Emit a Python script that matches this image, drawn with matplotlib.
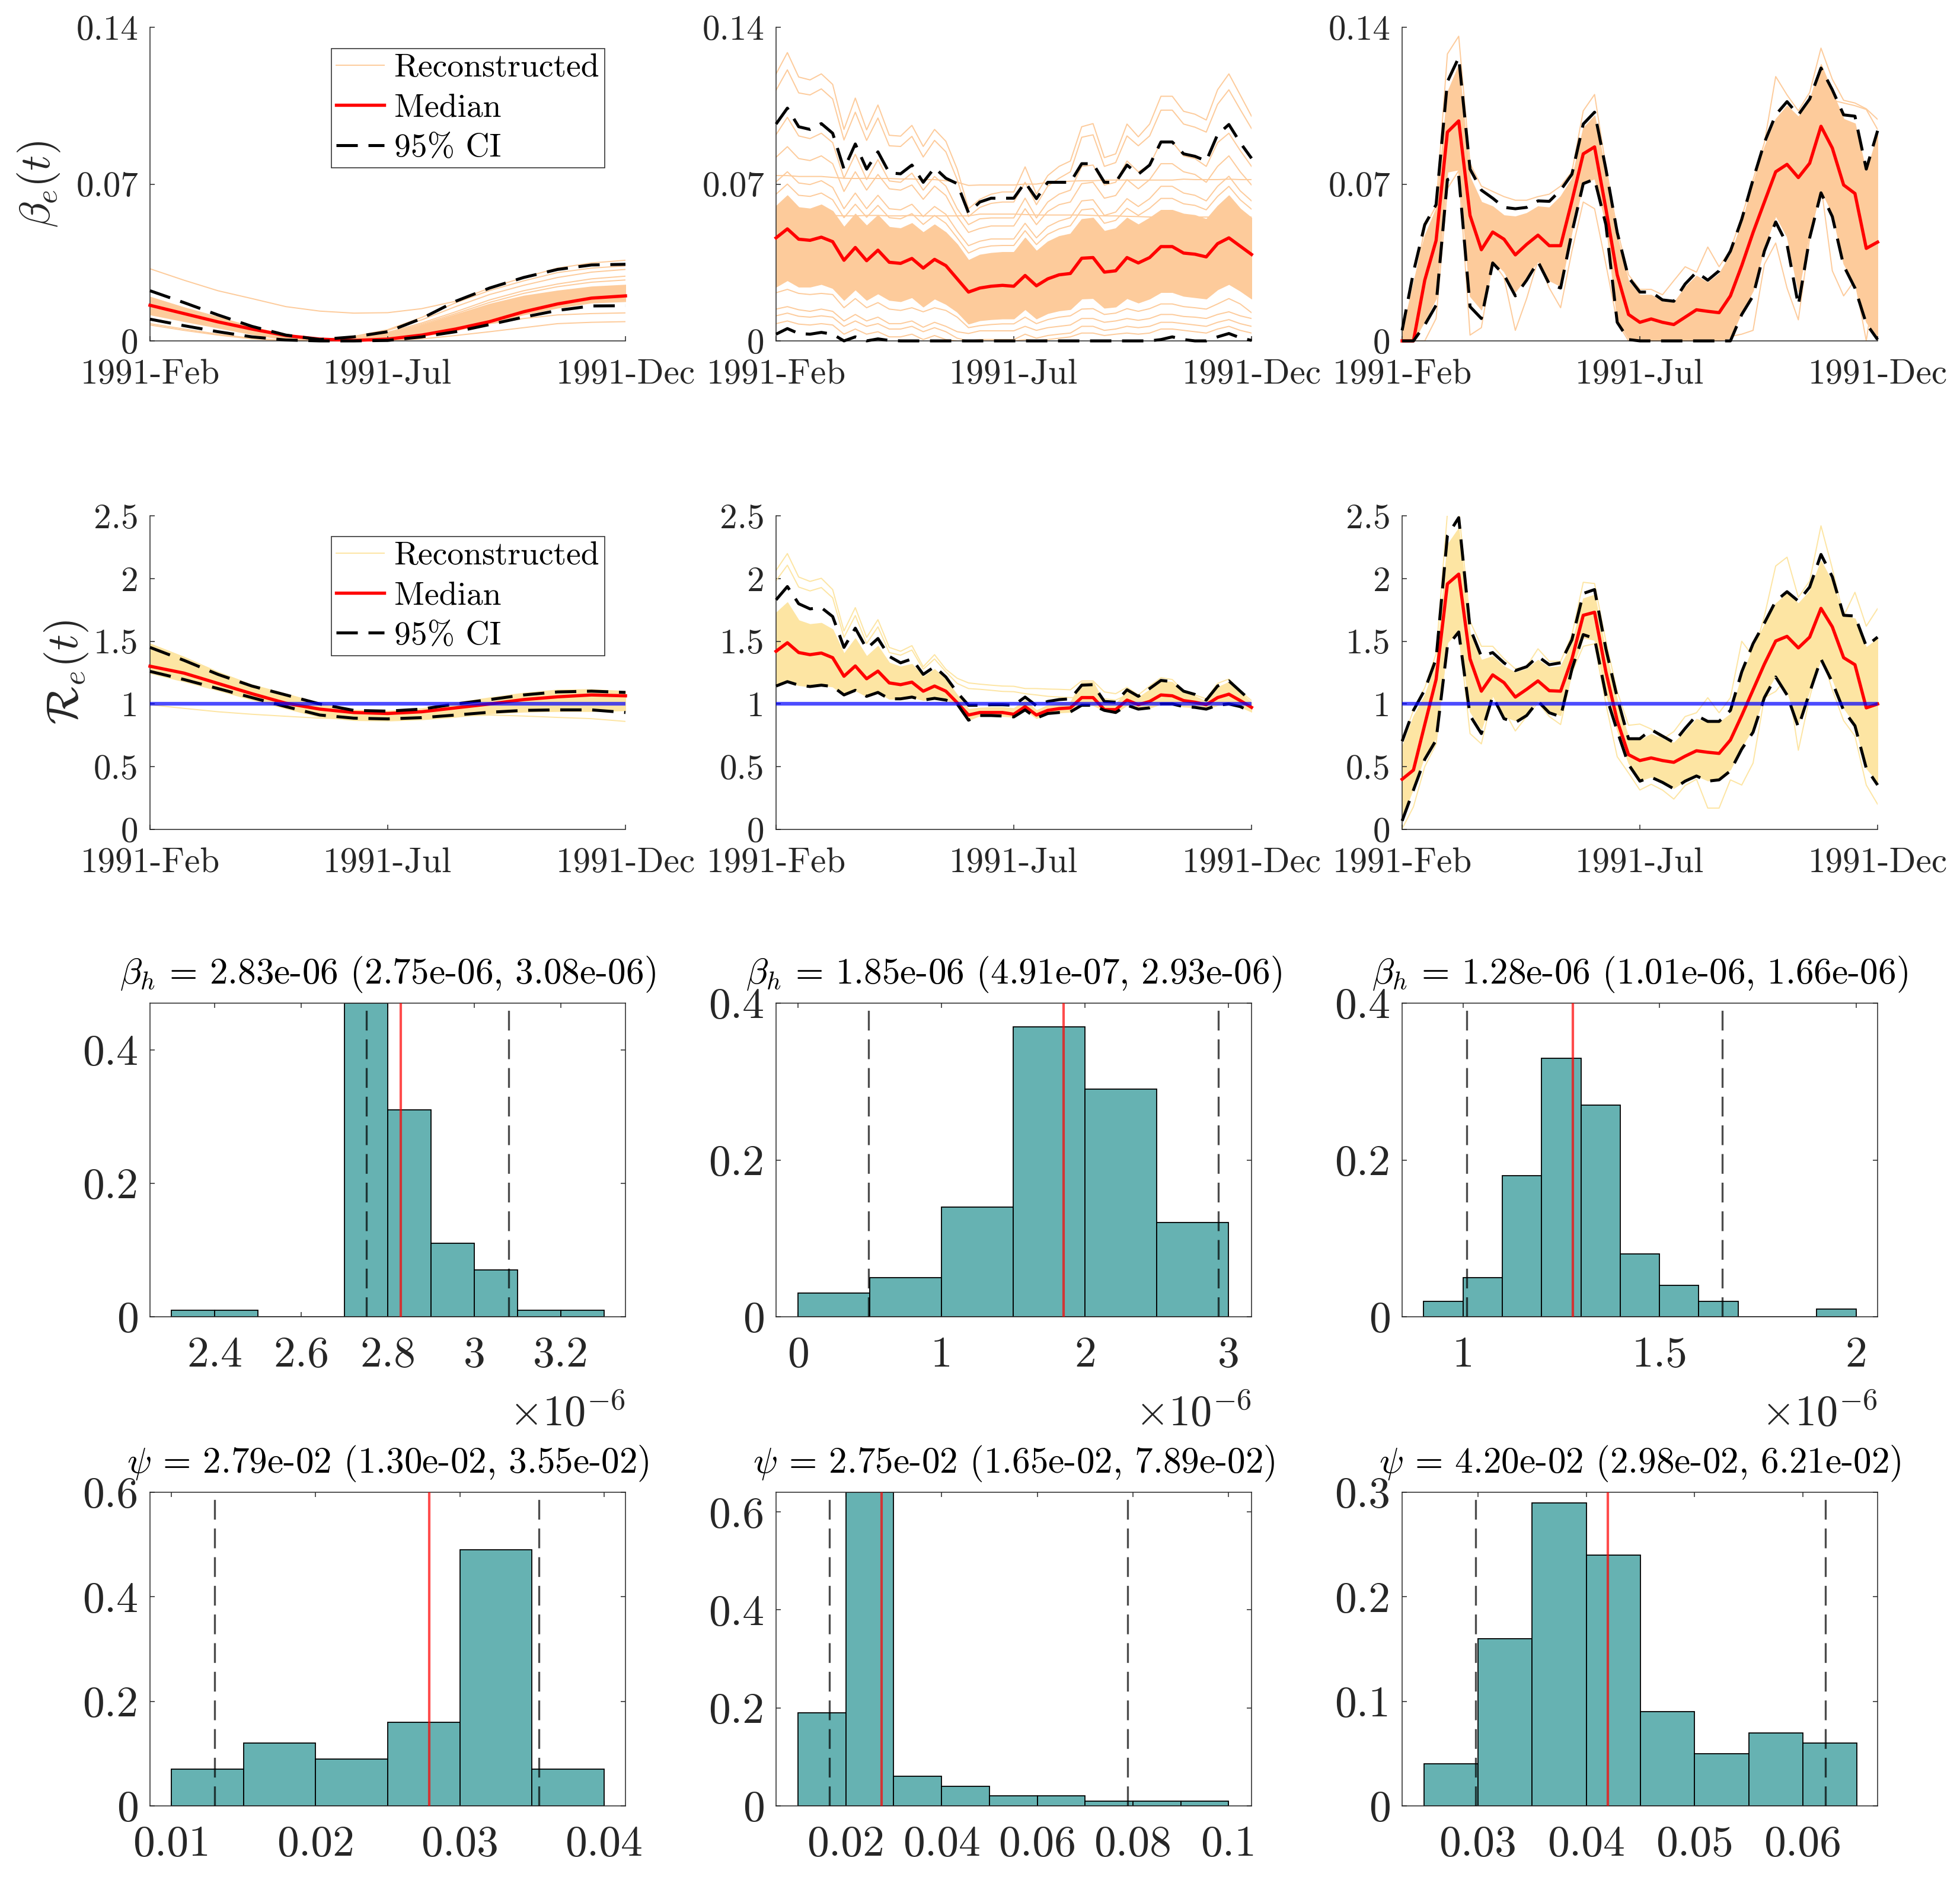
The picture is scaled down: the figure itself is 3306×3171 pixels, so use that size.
import numpy as np
import matplotlib
matplotlib.use("Agg")
import matplotlib.pyplot as plt

plt.rcParams.update({"font.family": "cmr10", "mathtext.fontset": "cm",
                     "axes.formatter.use_mathtext": True, "axes.unicode_minus": False})

W, H = 3306, 3171
BETA_C = "#FDCB9B"
R_C = "#FDE5A3"
TXT = "#262626"

x_labels = ["1991-Feb", "1991-Jul", "1991-Dec"]
x_week_ticks = [0, 21, 42]
weeks = list(range(43))
coarse = list(range(0, 43, 3))

# ---------- panel 1: beta_e, smooth ----------
b1_med = [.0159,.0122,.0085,.0053,.0024,.0008,.0002,.0008,.0026,.0053,.0086,.0130,.0165,.0191,.0201]
b1_up = [.0224,.0171,.0116,.0065,.0026,.0006,.0018,.0041,.0100,.0177,.0236,.0283,.0319,.0339,.0342]
b1_lo = [.0097,.0068,.0041,.0018,.0004,0,0,.0002,.0018,.0041,.0073,.0106,.0136,.0156,.0157]
b1_band_top = [.0195,.0148,.0100,.0059,.0024,.0006,.0012,.0033,.0071,.0118,.0165,.0201,.0224,.0242,.0250]
b1_band_low = [.0118,.0088,.0059,.0030,.0006,0,0,.0006,.0021,.0047,.0080,.0118,.0148,.0171,.0177]
b1_line_a = [.0322,.0271,.0224,.0189,.0153,.0133,.0124,.0126,.0144,.0177,.0236,.0283,.0325,.0348,.0360]
b1_line_b = [.0071,.0047,.0026,.0009,.0001,0,0,.0002,.0009,.0024,.0041,.0059,.0077,.0083,.0086]
b1_line_c = [.0077,.0053,.0030,.0012,.0002,0,.0002,.0009,.0030,.0053,.0077,.0100,.0116,.0122,.0125]
b1_line_d = [.0189,.0142,.0100,.0059,.0024,.0006,.0018,.0047,.0094,.0153,.0207,.0248,.0283,.0307,.0319]
b1_line_e = [.0189,.0142,.0100,.0059,.0024,.0006,.0014,.0038,.0080,.0130,.0183,.0224,.0254,.0277,.0289]
b1_line_f = [.0195,.0148,.0106,.0062,.0026,.0006,.0020,.0050,.0105,.0170,.0225,.0268,.0305,.0325,.0335]
b1_line_g = [.0180,.0135,.0095,.0056,.0022,.0005,.0012,.0034,.0074,.0122,.0172,.0212,.0242,.0262,.0272]

# ---------- panel 2 ----------
b2_med = [.0460,.0500,.0454,.0449,.0463,.0443,.0360,.0417,.0358,.0405,.0351,.0346,.0368,.0325,.0364,.0336,.0277,.0218,.0236,.0244,.0248,.0244,.0292,.0246,.0277,.0295,.0301,.0369,.0372,.0307,.0313,.0372,.0348,.0372,.0421,.0421,.0392,.0387,.0375,.0434,.0460,.0423,.0386]
b2_up = [.0968,.1039,.0956,.0944,.0970,.0927,.0767,.0879,.0767,.0844,.0750,.0746,.0785,.0708,.0773,.0726,.0702,.0572,.0620,.0637,.0637,.0637,.0708,.0635,.0708,.0708,.0708,.0791,.0791,.0708,.0708,.0785,.0744,.0785,.0888,.0888,.0835,.0824,.0803,.0921,.0966,.0885,.0815]
b2_lo = [.0030,.0055,.0033,.0030,.0038,.0030,0,.0018,0,.0009,.0002,0,0,0,0,0,0,0,0,0,0,0,0,0,0,0,0,0,0,0,0,0,0,0,.0006,.0018,.0006,0,0,.0018,.0033,.0014,.0002]
b2_band_top = [.0602,.0649,.0596,.0590,.0608,.0579,.0508,.0567,.0514,.0561,.0508,.0502,.0525,.0484,.0519,.0484,.0431,.0360,.0384,.0392,.0396,.0396,.0460,.0401,.0443,.0467,.0478,.0543,.0549,.0490,.0502,.0549,.0519,.0549,.0584,.0584,.0567,.0561,.0543,.0602,.0649,.0590,.0549]
b2_band_low = [.0242,.0271,.0242,.0242,.0254,.0236,.0183,.0230,.0183,.0212,.0183,.0177,.0195,.0153,.0189,.0165,.0130,.0077,.0092,.0097,.0100,.0100,.0142,.0100,.0124,.0136,.0142,.0189,.0191,.0148,.0153,.0191,.0171,.0189,.0218,.0218,.0201,.0195,.0189,.0230,.0254,.0224,.0189]
b2_t1 = [.1192,.1287,.1178,.1165,.1192,.1145,.0944,.1084,.0942,.1053,.0918,.0914,.0962,.0868,.0944,.0891,.0767,.0590,.0632,.0655,.0665,.0665,.0777,.0655,.0738,.0779,.0803,.0956,.0970,.0818,.0835,.0968,.0911,.0968,.1092,.1092,.1025,.1012,.0986,.1121,.1192,.1098,.1003]
b2_t2 = [.1119,.1210,.1107,.1098,.1125,.1080,.0897,.1021,.0895,.0995,.0871,.0868,.0913,.0821,.0895,.0844,.0720,.0555,.0596,.0614,.0620,.0620,.0708,.0608,.0691,.0726,.0755,.0909,.0920,.0779,.0796,.0915,.0871,.0915,.1030,.1030,.0968,.0954,.0932,.1056,.1121,.1033,.0948]
b2_t3 = [.0921,.0998,.0915,.0903,.0927,.0885,.0726,.0833,.0720,.0809,.0714,.0708,.0749,.0673,.0734,.0691,.0590,.0519,.0545,.0549,.0549,.0549,.0637,.0549,.0620,.0655,.0673,.0779,.0785,.0696,.0708,.0803,.0755,.0785,.0888,.0888,.0826,.0814,.0779,.0885,.0927,.0850,.0779]
b2_t4 = [.0820,.0867,.0814,.0805,.0826,.0791,.0667,.0755,.0673,.0743,.0679,.0673,.0696,.0632,.0691,.0649,.0555,.0484,.0502,.0513,.0513,.0513,.0590,.0519,.0578,.0608,.0620,.0702,.0708,.0637,.0649,.0720,.0679,.0720,.0791,.0791,.0755,.0743,.0708,.0779,.0826,.0755,.0696]
b2_t5 = [.0710,.0755,.0705,.0698,.0715,.0685,.0590,.0660,.0590,.0650,.0590,.0585,.0610,.0555,.0600,.0565,.0490,.0425,.0445,.0455,.0455,.0455,.0525,.0460,.0510,.0535,.0550,.0625,.0630,.0560,.0575,.0635,.0600,.0635,.0690,.0690,.0660,.0650,.0625,.0690,.0735,.0670,.0625]
b2_t6 = [.0655,.0700,.0650,.0645,.0660,.0630,.0550,.0610,.0552,.0605,.0550,.0545,.0568,.0520,.0560,.0525,.0460,.0392,.0415,.0424,.0426,.0426,.0492,.0430,.0476,.0500,.0514,.0585,.0590,.0525,.0538,.0592,.0560,.0592,.0636,.0636,.0612,.0605,.0585,.0645,.0690,.0630,.0588]
b2_f1 = [.0738,.0738,.0734,.0734,.0734,.0730,.0726,.0725,.0726,.0725,.0725,.0723,.0723,.0720,.0720,.0715,.0708,.0694,.0696,.0696,.0696,.0696,.0700,.0700,.0708,.0710,.0713,.0715,.0715,.0718,.0718,.0718,.0718,.0718,.0718,.0718,.0722,.0720,.0720,.0720,.0722,.0720,.0720]
b2_f2 = [.0555,.0558,.0558,.0560,.0560,.0560,.0558,.0558,.0560,.0560,.0558,.0558,.0560,.0558,.0558,.0558,.0558,.0558,.0566,.0566,.0566,.0566,.0564,.0562,.0562,.0562,.0562,.0562,.0560,.0558,.0558,.0556,.0555,.0553,.0553,.0553,.0553,.0553,.0553,.0553,.0553,.0553,.0553]
b2_l1 = [.0215,.0230,.0212,.0207,.0212,.0207,.0148,.0189,.0148,.0171,.0142,.0136,.0148,.0130,.0148,.0136,.0106,.0059,.0068,.0073,.0076,.0076,.0106,.0077,.0095,.0106,.0112,.0142,.0144,.0118,.0124,.0144,.0132,.0144,.0165,.0165,.0153,.0148,.0142,.0165,.0189,.0165,.0126]
b2_l2 = [.0142,.0153,.0139,.0132,.0142,.0132,.0089,.0118,.0089,.0106,.0077,.0077,.0089,.0061,.0083,.0065,.0041,.0033,.0045,.0045,.0045,.0045,.0065,.0047,.0059,.0065,.0071,.0100,.0100,.0083,.0089,.0100,.0092,.0100,.0118,.0118,.0109,.0106,.0100,.0118,.0130,.0112,.0100]
b2_l3 = [.0112,.0124,.0110,.0106,.0112,.0106,.0065,.0089,.0065,.0077,.0053,.0053,.0065,.0041,.0059,.0041,.0012,0,.0006,.0006,.0006,.0006,.0030,.0012,.0024,.0030,.0035,.0065,.0065,.0047,.0053,.0065,.0059,.0065,.0083,.0083,.0077,.0071,.0065,.0083,.0095,.0077,.0065]
b2_l4 = [.0077,.0089,.0075,.0071,.0077,.0071,.0030,.0053,.0030,.0041,.0018,.0018,.0030,.0006,.0024,.0006,0,0,0,0,0,0,.0006,0,.0006,.0012,.0018,.0035,.0035,.0024,.0030,.0035,.0030,.0035,.0053,.0053,.0047,.0041,.0035,.0053,.0065,.0047,.0035]

# ---------- panel 3 ----------
b3_med = [0,0,.0271,.0448,.0932,.0982,.0560,.0407,.0486,.0454,.0384,.0431,.0472,.0425,.0425,.0625,.0835,.0866,.0590,.0295,.0118,.0083,.0098,.0083,.0073,.0106,.0139,.0132,.0126,.0201,.0336,.0484,.0620,.0755,.0788,.0729,.0793,.0958,.0861,.0696,.0658,.0413,.0441]
b3_up = [.0047,.0307,.0519,.0608,.1157,.1265,.0767,.0673,.0637,.0596,.0590,.0596,.0625,.0623,.0673,.0744,.0968,.1021,.0767,.0484,.0283,.0218,.0218,.0183,.0177,.0254,.0307,.0271,.0313,.0401,.0543,.0720,.0885,.1009,.1068,.1009,.1080,.1218,.1121,.1009,.1003,.0767,.0938]
b3_lo = [0,0,.0071,.0159,.0720,.0738,.0153,.0100,.0348,.0295,.0201,.0271,.0354,.0254,.0236,.0484,.0702,.0722,.0519,.0083,.0006,0,0,0,0,0,0,0,0,0,.0118,.0201,.0401,.0531,.0431,.0159,.0460,.0661,.0555,.0336,.0236,.0077,.0006]
b3_band_top = [.0035,.0260,.0470,.0590,.1110,.1230,.0730,.0620,.0600,.0560,.0555,.0570,.0600,.0595,.0645,.0725,.0950,.1005,.0750,.0465,.0265,.0205,.0205,.0175,.0170,.0240,.0290,.0260,.0300,.0385,.0525,.0705,.0865,.0990,.1050,.1000,.1075,.1235,.1110,.0990,.0970,.0750,.0920]
b3_band_low = [0,0,.0090,.0190,.0755,.0765,.0200,.0140,.0360,.0310,.0220,.0285,.0360,.0270,.0245,.0490,.0705,.0725,.0525,.0095,.0010,0,0,0,0,0,0,0,0,.0015,.0130,.0225,.0420,.0560,.0465,.0220,.0490,.0675,.0570,.0345,.0250,.0085,.0010]
b3_hi = [0,.0224,.0508,.0602,.1281,.1360,.0791,.0691,.0667,.0644,.0628,.0628,.0644,.0655,.0691,.0755,.1027,.1100,.0779,.0496,.0295,.0230,.0230,.0206,.0269,.0331,.0307,.0419,.0331,.0407,.0555,.0720,.0885,.1180,.1098,.1027,.1109,.1307,.1168,.1074,.1062,.1036,.0989]
b3_low = [0,0,0,.0100,.0680,.0760,.0026,.0059,.0354,.0283,.0047,.0189,.0360,.0236,.0148,.0401,.0620,.0590,.0342,.0083,0,0,0,0,0,0,0,0,0,.0020,.0030,.0047,.0342,.0437,.0236,.0094,.0460,.0696,.0313,.0201,.0271,0,.0342]
b3_tail_weeks = [36, 37, 38, 39, 40, 41, 42]
b3_tail = [.1090, .1074, .1074, .1062, .1050, .1033, .0944]

# ---------- panel 4: R_e smooth ----------
r1_med = [1.301,1.246,1.164,1.082,1.006,.959,.932,.924,.938,.969,1.000,1.035,1.057,1.072,1.065]
r1_up = [1.451,1.348,1.236,1.143,1.072,1.000,.949,.943,.959,1.000,1.035,1.072,1.096,1.102,1.092]
r1_lo = [1.260,1.195,1.123,1.051,.979,.912,.887,.881,.891,.912,.934,.949,.953,.953,.932]
r1_band_top = [1.481,1.375,1.256,1.154,1.082,1.006,.953,.945,.965,1.010,1.051,1.088,1.113,1.117,1.102]
r1_band_low = [1.246,1.180,1.109,1.035,.965,.897,.871,.867,.877,.897,.924,.938,.943,.943,.949]
r1_line = [.994,.965,.938,.918,.902,.887,.883,.883,.891,.902,.912,.904,.893,.883,.861]

# ---------- panel 5 ----------
r2_med = [1.420,1.488,1.410,1.393,1.406,1.369,1.221,1.303,1.201,1.262,1.168,1.154,1.174,1.102,1.143,1.102,1.010,.912,.932,.932,.932,.918,.979,.912,.949,.963,.969,1.051,1.051,.955,.955,1.031,.994,1.020,1.072,1.065,1.027,1.014,.994,1.051,1.078,1.027,.973]
r2_up = [1.830,1.936,1.799,1.758,1.768,1.697,1.451,1.604,1.441,1.522,1.379,1.328,1.359,1.236,1.297,1.215,1.092,.990,.990,.994,.994,.990,1.055,.986,1.020,1.035,1.041,1.150,1.154,1.020,1.014,1.113,1.061,1.123,1.188,1.178,1.102,1.076,1.031,1.143,1.184,1.102,1.020]
r2_lo = [1.143,1.178,1.150,1.139,1.150,1.139,1.072,1.109,1.061,1.092,1.041,1.041,1.055,1.031,1.045,1.031,1.000,.871,.908,.908,.904,.897,.953,.887,.924,.932,.937,.990,.990,.949,.932,.990,.959,.969,1.000,1.000,.979,.973,.959,.990,1.000,.979,.938]
r2_band_top = [1.727,1.809,1.666,1.635,1.645,1.594,1.400,1.522,1.379,1.461,1.328,1.297,1.318,1.215,1.277,1.195,1.072,.959,.969,.973,.973,.965,1.031,.949,.990,1.006,1.014,1.174,1.174,1.010,1.000,1.102,1.051,1.113,1.184,1.174,1.092,1.061,1.020,1.133,1.174,1.092,1.010]
r2_hi_a = [2.065,2.199,2.012,1.977,2.002,1.912,1.582,1.768,1.531,1.672,1.451,1.420,1.465,1.297,1.393,1.277,1.205,1.168,1.158,1.150,1.143,1.141,1.123,1.123,1.119,1.117,1.113,1.184,1.184,1.096,1.082,1.133,1.072,1.143,1.209,1.195,1.102,1.072,1.041,1.164,1.199,1.102,1.027]
r2_hi_b = [1.983,2.106,1.932,1.901,1.928,1.846,1.531,1.705,1.482,1.615,1.410,1.389,1.430,1.277,1.359,1.256,1.164,1.123,1.117,1.109,1.100,1.098,1.082,1.072,1.061,1.055,1.051,1.051,1.051,1.041,1.031,1.072,1.051,1.082,1.143,1.133,1.061,1.041,1.020,1.102,1.143,1.072,1.000]

# ---------- panel 6 ----------
r3_med = [.400,.473,.836,1.195,1.957,2.035,1.359,1.102,1.232,1.170,1.055,1.117,1.184,1.106,1.102,1.359,1.707,1.731,1.256,.867,.596,.549,.570,.549,.535,.584,.627,.615,.606,.713,.908,1.113,1.318,1.502,1.539,1.447,1.533,1.762,1.615,1.369,1.313,.969,1.000]
r3_up = [.703,.949,1.113,1.359,2.342,2.485,1.604,1.379,1.410,1.328,1.266,1.297,1.379,1.313,1.328,1.512,1.881,1.912,1.440,1.051,.723,.723,.795,.744,.693,.805,.908,.861,.861,.949,1.256,1.481,1.645,1.820,1.895,1.820,1.932,2.192,2.014,1.707,1.701,1.461,1.533]
r3_lo = [.068,.314,.559,.712,1.461,1.574,.908,.764,1.061,.883,.852,.908,1.022,.930,.899,1.278,1.553,1.522,1.072,.785,.518,.385,.416,.375,.324,.385,.426,.385,.395,.467,.641,.775,1.051,1.215,1.072,.816,1.092,1.358,1.174,.949,.826,.488,.354]
r3_band_top = [.66,.90,1.07,1.32,2.27,2.40,1.56,1.35,1.38,1.30,1.25,1.28,1.35,1.29,1.30,1.48,1.84,1.87,1.41,1.03,.73,.71,.76,.72,.69,.78,.88,.85,.85,.92,1.22,1.45,1.63,1.80,1.88,1.80,1.90,2.14,1.97,1.70,1.68,1.45,1.52]
r3_band_low = [.10,.33,.59,.73,1.49,1.59,.94,.80,1.07,.90,.87,.93,1.03,.94,.91,1.28,1.53,1.51,1.08,.79,.53,.39,.42,.38,.33,.39,.43,.39,.40,.48,.66,.81,1.07,1.23,1.10,.85,1.11,1.36,1.20,.97,.84,.49,.38]
r3_hi = [.70,.95,1.13,1.40,2.52,2.55,1.66,1.46,1.46,1.36,1.28,1.30,1.44,1.34,1.34,1.55,1.97,1.96,1.50,1.10,.83,.84,.80,.72,.78,.90,.93,1.05,.93,1.05,1.50,1.38,1.70,2.10,2.17,1.85,1.98,2.42,2.08,1.70,1.89,1.62,1.76]
r3_low = [.006,.180,.50,.68,1.50,1.58,.764,.682,1.071,.95,.785,.90,1.010,.90,.836,1.25,1.46,1.48,1.0,.58,.45,.314,.36,.314,.242,.35,.40,.170,.170,.395,.354,.529,1.051,1.10,1.215,.631,1.051,1.40,1.113,.867,.744,.354,.201]

# ---------- histograms ----------
h1_edges = [2.3, 2.4, 2.5, 2.6, 2.7, 2.8, 2.9, 3.0, 3.1, 3.2, 3.3]
h1_vals = [.01, .01, 0, 0, .47, .31, .11, .07, .01, .01]
h2_edges = [0, .5, 1, 1.5, 2, 2.5, 3]
h2_vals = [.03, .05, .14, .37, .29, .12]
h3_edges = [.9, 1.0, 1.1, 1.2, 1.3, 1.4, 1.5, 1.6, 1.7, 1.8, 1.9, 2.0]
h3_vals = [.02, .05, .18, .33, .27, .08, .04, .02, 0, 0, .01]
h4_edges = [.01, .015, .02, .025, .03, .035, .04]
h4_vals = [.07, .12, .09, .16, .49, .07]
h5_edges = [.01, .02, .03, .04, .05, .06, .07, .08, .09, .10]
h5_vals = [.19, .64, .06, .04, .02, .02, .01, .01, .01]
h6_edges = [.025, .03, .035, .04, .045, .05, .055, .06, .065]
h6_vals = [.04, .16, .29, .24, .09, .05, .07, .06]

hists = [
    (h1_edges, h1_vals, (2.83, 2.75, 3.08), (2.25, 3.35), .47, [2.4, 2.6, 2.8, 3, 3.2], ["2.4", "2.6", "2.8", "3", "3.2"], [0, .2, .4], ["0", "0.2", "0.4"],
     r"$\beta_h$ = 2.83e-06 (2.75e-06, 3.08e-06)"),
    (h2_edges, h2_vals, (1.85, .491, 2.93), (-.155, 3.16), .4, [0, 1, 2, 3], ["0", "1", "2", "3"], [0, .2, .4], ["0", "0.2", "0.4"],
     r"$\beta_h$ = 1.85e-06 (4.91e-07, 2.93e-06)"),
    (h3_edges, h3_vals, (1.28, 1.01, 1.66), (.845, 2.055), .4, [1, 1.5, 2], ["1", "1.5", "2"], [0, .2, .4], ["0", "0.2", "0.4"],
     r"$\beta_h$ = 1.28e-06 (1.01e-06, 1.66e-06)"),
    (h4_edges, h4_vals, (.0279, .0130, .0355), (.0085, .0415), .6, [.01, .02, .03, .04], ["0.01", "0.02", "0.03", "0.04"], [0, .2, .4, .6], ["0", "0.2", "0.4", "0.6"],
     r"$\psi$ = 2.79e-02 (1.30e-02, 3.55e-02)"),
    (h5_edges, h5_vals, (.0275, .0165, .0789), (.0054, .1048), .64, [.02, .04, .06, .08, .1], ["0.02", "0.04", "0.06", "0.08", "0.1"], [0, .2, .4, .6], ["0", "0.2", "0.4", "0.6"],
     r"$\psi$ = 2.75e-02 (1.65e-02, 7.89e-02)"),
    (h6_edges, h6_vals, (.0420, .0298, .0621), (.0230, .0669), .3, [.03, .04, .05, .06], ["0.03", "0.04", "0.05", "0.06"], [0, .1, .2, .3], ["0", "0.1", "0.2", "0.3"],
     r"$\psi$ = 4.20e-02 (2.98e-02, 6.21e-02)"),
]

# ---------- layout in pixels ----------
col_left = [253, 1309, 2365]
ax_w = 802
row_top = [46, 870, 1692, 2517]
ax_h = 529

fig = plt.figure(figsize=(W / 100, H / 100), dpi=100)


def make_ax(r, c):
    return fig.add_axes([col_left[c] / W, 1 - (row_top[r] + ax_h) / H, ax_w / W, ax_h / H])


def style_series(ax, ylim, yticks, ylabels):
    ax.set_xlim(0, 42)
    ax.set_ylim(*ylim)
    ax.set_xticks(x_week_ticks)
    ax.set_xticklabels(x_labels, fontsize=42.5, color=TXT)
    ax.set_yticks(yticks)
    ax.set_yticklabels(ylabels, fontsize=42.5, color=TXT)
    ax.tick_params(direction="in", length=6, width=1.1, color=TXT, pad=14)
    ax.tick_params(axis="x", pad=22)
    ax.spines["top"].set_visible(False)
    ax.spines["right"].set_visible(False)
    for s in ("left", "bottom"):
        ax.spines[s].set_linewidth(1.1)
        ax.spines[s].set_color(TXT)


def draw_series(ax, x, color, band, lines, med, up, lo, legend=False, blue=False, extra=None):
    ax.fill_between(x, band[0], band[1], color=color, lw=1.2, zorder=1)
    for i, ln in enumerate(lines):
        ax.plot(x, ln, color=color, lw=1.4, zorder=2, label="Reconstructed" if i == 0 else None)
    if extra:
        ax.plot(*extra, color=color, lw=1.4, zorder=2)
    ax.plot(x, med, color="#FF0000", lw=3.9, zorder=4, clip_on=False, label="Median")
    ax.plot(x, up, color="k", lw=3.6, ls=(0, (7.2, 3.6)), zorder=5, clip_on=False, label="95% CI")
    ax.plot(x, lo, color="k", lw=3.6, ls=(0, (7.2, 3.6)), zorder=5, clip_on=False)
    if blue:
        ax.axhline(1, color=(0, 0, 1, .7), lw=4.5, zorder=6)
    if legend:
        leg = ax.legend(loc="upper left", bbox_to_anchor=legend, fontsize=40, frameon=True, fancybox=False,
                        framealpha=1, edgecolor=TXT, handlelength=1.45, handletextpad=.3, labelspacing=.315,
                        borderpad=.15, borderaxespad=0, labelcolor="k")
        leg.get_frame().set_linewidth(1.1)


b_ticks = ([0, .07, .14], ["0", "0.07", "0.14"])
r_ticks = ([0, .5, 1, 1.5, 2, 2.5], ["0", "0.5", "1", "1.5", "2", "2.5"])

ax = make_ax(0, 0)
draw_series(ax, coarse, BETA_C, (b1_band_low, b1_band_top),
            [b1_line_a, b1_line_b, b1_line_c, b1_line_d, b1_line_e, b1_line_f, b1_line_g],
            b1_med, b1_up, b1_lo, legend=(.3816, .932))
style_series(ax, (0, .14), *b_ticks)
ax.set_ylabel(r"$\beta_e(t)$", fontsize=52, color=TXT, labelpad=17)

ax = make_ax(0, 1)
draw_series(ax, weeks, BETA_C, (b2_band_low, b2_band_top),
            [b2_t1, b2_t2, b2_t3, b2_t4, b2_t5, b2_t6, b2_f1, b2_f2, b2_l1, b2_l2, b2_l3, b2_l4], b2_med, b2_up, b2_lo)
style_series(ax, (0, .14), *b_ticks)

ax = make_ax(0, 2)
draw_series(ax, weeks, BETA_C, (b3_band_low, b3_band_top), [b3_hi, b3_low], b3_med, b3_up, b3_lo,
            extra=(b3_tail_weeks, b3_tail))
style_series(ax, (0, .14), *b_ticks)

ax = make_ax(1, 0)
draw_series(ax, coarse, R_C, (r1_band_low, r1_band_top), [r1_line], r1_med, r1_up, r1_lo, legend=(.3816, .934), blue=True)
style_series(ax, (0, 2.5), *r_ticks)
ax.set_ylabel(r"$\mathcal{R}_e(t)$", fontsize=54, color=TXT, labelpad=4)

ax = make_ax(1, 1)
draw_series(ax, weeks, R_C, (r2_lo, r2_band_top), [r2_hi_a, r2_hi_b], r2_med, r2_up, r2_lo, blue=True)
style_series(ax, (0, 2.5), *r_ticks)

ax = make_ax(1, 2)
draw_series(ax, weeks, R_C, (r3_band_low, r3_band_top), [r3_hi, r3_low], r3_med, r3_up, r3_lo, blue=True)
style_series(ax, (0, 2.5), *r_ticks)

for n, (edges, vals, lines, xlim, ymax, xt, xtl, yt, ytl, title) in enumerate(hists):
    ax = make_ax(2 + n // 3, n % 3)
    ax.bar(edges[:-1], vals, width=np.diff(edges), align="edge", color="#66B2B2", edgecolor="k", lw=1.3, zorder=2)
    ax.axvline(lines[0], color=(1, 0, 0, .7), lw=3, zorder=4)
    for v in lines[1:]:
        ax.axvline(v, color=(0, 0, 0, .7), lw=2.4, ls=(0, (10, 4.5)), zorder=4)
    ax.set_xlim(*xlim)
    ax.set_ylim(0, ymax)
    ax.set_xticks(xt)
    ax.set_xticklabels(xtl, fontsize=53, color=TXT)
    ax.set_yticks(yt)
    ax.set_yticklabels(ytl, fontsize=53, color=TXT)
    ax.tick_params(direction="in", length=6, width=1.1, color=TXT, top=True, right=True, pad=14)
    ax.tick_params(axis="x", pad=24)
    for s in ax.spines.values():
        s.set_linewidth(1.1)
        s.set_color(TXT)
    ax.set_title(title, fontsize=44, color="k", pad=24)
    if n < 3:
        ax.text(1, -.245, r"$\times 10^{-6}$", transform=ax.transAxes, ha="right", va="top", fontsize=52, color=TXT)

fig.savefig("out.png", dpi=100, facecolor="white")
